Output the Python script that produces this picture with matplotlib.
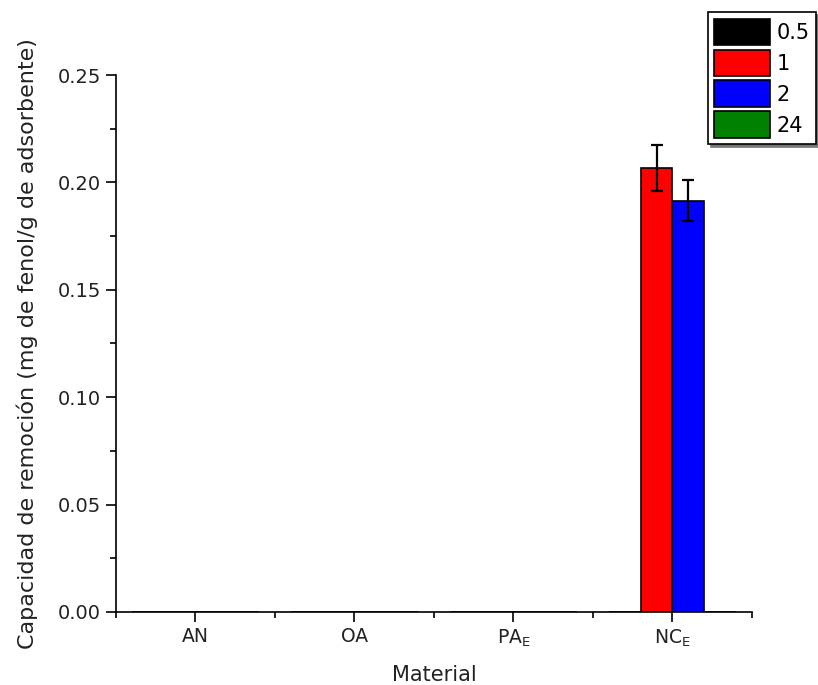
import numpy as np
import matplotlib.pyplot as plt
from matplotlib.ticker import MultipleLocator

plt.rcParams['font.family'] = ['DejaVu Sans']
plt.rcParams['mathtext.fontset'] = 'dejavusans'

materials = ['AN', 'OA', r'PA$_\mathrm{E}$', r'NC$_\mathrm{E}$']
series = ['0.5', '1', '2', '24']
colors = ['black', 'red', 'blue', 'green']
values = {
    '0.5': [0, 0, 0, 0],
    '1': [0, 0, 0, 0.2067],
    '2': [0, 0, 0, 0.1915],
    '24': [0, 0, 0, 0],
}
errors = {
    '0.5': [0, 0, 0, 0],
    '1': [0, 0, 0, 0.0105],
    '2': [0, 0, 0, 0.0097],
    '24': [0, 0, 0, 0],
}

fig = plt.figure(figsize=(8.18, 6.85), dpi=100)
ax = fig.add_axes([0.1418, 0.1066, 0.7775, 0.7839])

x = np.arange(len(materials))
width = 0.2
handles = []
for i, s in enumerate(series):
    vals = np.array(values[s])
    errs = np.array(errors[s])
    pos = x + (i - 1.5) * width
    h = ax.bar(pos, vals, width, color=colors[i], edgecolor='black', linewidth=1.2)
    handles.append(h)
    mask = errs > 0
    if mask.any():
        ax.errorbar(pos[mask], vals[mask], yerr=errs[mask], fmt='none',
                    ecolor='black', elinewidth=1.6, capsize=4, capthick=1.6)

ax.set_xlim(-0.5, 3.5)
ax.set_ylim(0, 0.25)
ax.set_xticks(x)
ax.set_xticklabels(materials, fontsize=13.5, color='#222222')
ax.xaxis.set_minor_locator(MultipleLocator(0.5))
ax.yaxis.set_major_locator(MultipleLocator(0.05))
ax.yaxis.set_minor_locator(MultipleLocator(0.025))
ax.set_yticklabels([f'{v:.2f}' for v in ax.get_yticks()], fontsize=14, color='#222222')
ax.tick_params(which='major', direction='out', length=7, width=1.2, pad=4)
ax.tick_params(which='minor', direction='out', length=4, width=1.2)
for sp in ['top', 'right']:
    ax.spines[sp].set_visible(False)
for sp in ['left', 'bottom']:
    ax.spines[sp].set_linewidth(1.2)

ax.set_xlabel('Material', fontsize=15, labelpad=12, color='#222222')
ax.set_ylabel('Capacidad de remoción (mg de fenol/g de adsorbente)', fontsize=16,
              labelpad=14, color='#222222')

leg = fig.legend(handles, series, loc='upper right', bbox_to_anchor=(1.0, 0.985),
                 fontsize=15, handlelength=2.7, handleheight=1.6, handletextpad=0.3,
                 labelspacing=0.2, borderpad=0.3, borderaxespad=0.1, frameon=True,
                 fancybox=False, shadow={'color': '#777777', 'alpha': 1.0},
                 edgecolor='black')
leg.get_frame().set_linewidth(1.2)

fig.savefig('out.png', dpi=100)
